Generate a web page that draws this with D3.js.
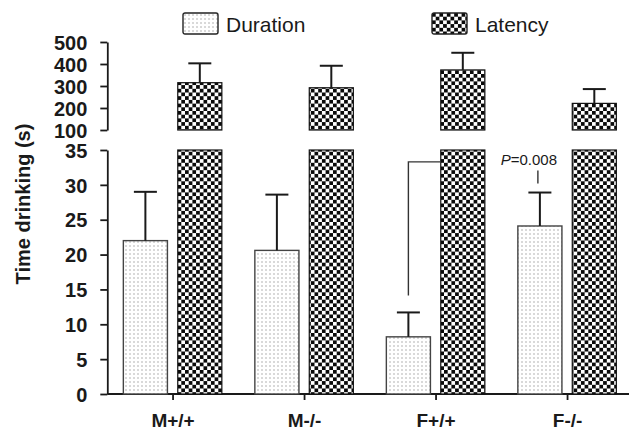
<!DOCTYPE html>
<html>
<head>
<meta charset="utf-8">
<script src="https://cdn.jsdelivr.net/npm/d3@7"></script>
<style>
  body { margin: 0; background: #fff; }
  svg { font-family: 'Liberation Sans', Arial, sans-serif; }
</style>
</head>
<body>
<svg id="chart" width="629" height="431"></svg>
<script>
// data
const groups = ['M+/+', 'M-/-', 'F+/+', 'F-/-'];
const series = ['Duration', 'Latency'];
const durationMean = [22.0, 20.6, 8.2, 24.1];
const durationSem = [7.0, 8.0, 3.5, 4.8];
const latencyMean = [315, 292, 373, 221];
const latencySem = [88, 100, 78, 65];
const lowerTicks = [0, 5, 10, 15, 20, 25, 30, 35];
const upperTicks = [100, 200, 300, 400, 500];
const pLabel = '=0.008';

const svg = d3.select('#chart');
const ink = '#1a1a1a';

// patterns
const defs = svg.append('defs');
const dots = defs.append('pattern').attr('id', 'dots')
  .attr('patternUnits', 'userSpaceOnUse').attr('width', 4).attr('height', 4);
dots.append('rect').attr('width', 4).attr('height', 4).attr('fill', '#fff');
dots.append('circle').attr('cx', 2).attr('cy', 2).attr('r', 0.75).attr('fill', '#a0a0a0');

const checks = defs.append('pattern').attr('id', 'checks')
  .attr('patternUnits', 'userSpaceOnUse').attr('width', 7.4).attr('height', 7.4);
checks.append('rect').attr('width', 7.4).attr('height', 7.4).attr('fill', '#fff');
checks.append('rect').attr('x', 0).attr('y', 0).attr('width', 3.7).attr('height', 3.7).attr('fill', '#0a0a0a');
checks.append('rect').attr('x', 3.7).attr('y', 3.7).attr('width', 3.7).attr('height', 3.7).attr('fill', '#0a0a0a');

const fillFor = { Duration: 'url(#dots)', Latency: 'url(#checks)' };

// scales
const axisX = 107.3;
const x = d3.scaleBand().domain(groups).range([axisX, axisX + 526]).padding(0);
const sub = d3.scaleBand().domain(series).range([-49.7, 48.8]).paddingInner(0.19);
const yLow = d3.scaleLinear().domain([0, 35]).range([394, 150]);
const yHigh = d3.scaleLinear().domain([100, 500]).range([130, 42]);
const cx = g => x(g) + x.bandwidth() / 2;

// axes
function styleAxis(g) {
  g.selectAll('path, line').attr('stroke', ink).attr('stroke-width', 1.8);
  g.selectAll('text').attr('fill', ink).attr('font-size', 20).attr('font-weight', 'bold');
}
svg.append('g').attr('transform', `translate(${axisX},0)`)
  .call(d3.axisLeft(yLow).tickValues(lowerTicks).tickSize(7).tickSizeOuter(0).tickPadding(13))
  .call(styleAxis)
  .call(g => g.selectAll('text').attr('dy', '0.36em'));
svg.append('g').attr('transform', `translate(${axisX},0)`)
  .call(d3.axisLeft(yHigh).tickValues(upperTicks).tickSize(7).tickSizeOuter(0).tickPadding(13))
  .call(styleAxis)
  .call(g => g.selectAll('text').attr('dy', '0.36em'));

const xAxis = svg.append('g').attr('transform', 'translate(0,394)')
  .call(d3.axisBottom(x).tickSize(6).tickSizeOuter(0).tickPadding(13))
  .call(styleAxis);
xAxis.select('.domain').attr('d', `M${axisX},0H629`);
xAxis.selectAll('text').attr('font-size', 19).attr('dy', '0.75em');

// duration bars (lower panel)
const durRows = groups.map((g, i) => ({ g, mean: durationMean[i], sem: durationSem[i] }));
const latRows = groups.map((g, i) => ({ g, mean: latencyMean[i], sem: latencySem[i] }));

svg.append('g').selectAll('rect').data(durRows).join('rect')
  .attr('x', d => cx(d.g) + sub('Duration'))
  .attr('width', sub.bandwidth())
  .attr('y', d => yLow(d.mean))
  .attr('height', d => yLow(0) - yLow(d.mean))
  .attr('fill', fillFor.Duration).attr('stroke', '#444').attr('stroke-width', 1.4);

// latency bars: broken axis, full to 35 in lower panel, real value in upper
svg.append('g').selectAll('rect').data(latRows).join('rect')
  .attr('x', d => cx(d.g) + sub('Latency'))
  .attr('width', sub.bandwidth())
  .attr('y', yLow(35))
  .attr('height', yLow(0) - yLow(35))
  .attr('fill', fillFor.Latency).attr('stroke', '#111').attr('stroke-width', 1.2);
svg.append('g').selectAll('rect').data(latRows).join('rect')
  .attr('x', d => cx(d.g) + sub('Latency'))
  .attr('width', sub.bandwidth())
  .attr('y', d => yHigh(d.mean))
  .attr('height', d => yHigh(100) - yHigh(d.mean))
  .attr('fill', fillFor.Latency).attr('stroke', '#111').attr('stroke-width', 1.2);

// error bars
function errorBars(rows, key, y) {
  const g = svg.append('g').attr('stroke', ink).attr('stroke-width', 2);
  rows.forEach(d => {
    const c = cx(d.g) + sub(key) + sub.bandwidth() / 2;
    g.append('line').attr('x1', c).attr('x2', c).attr('y1', y(d.mean)).attr('y2', y(d.mean + d.sem));
    g.append('line').attr('x1', c - 11.5).attr('x2', c + 11.5).attr('y1', y(d.mean + d.sem)).attr('y2', y(d.mean + d.sem));
  });
}
errorBars(durRows, 'Duration', yLow);
errorBars(latRows, 'Latency', yHigh);

// significance bracket F+/+ vs F-/-
const fp = durRows[2], fm = durRows[3];
const bx = cx(fp.g) + sub('Duration') + sub.bandwidth() / 2;
const latLeft = cx(fp.g) + sub('Latency');
const bTop = yLow(33.3);
svg.append('path')
  .attr('d', `M${bx},${yLow(fp.mean + fp.sem) - 17}V${bTop}H${latLeft}`)
  .attr('fill', 'none').attr('stroke', '#333').attr('stroke-width', 1.4);
const mx = cx(fm.g) + sub('Duration') + sub.bandwidth() / 2 - 2;
svg.append('line').attr('x1', mx).attr('x2', mx)
  .attr('y1', yLow(fm.mean + fm.sem) - 9).attr('y2', yLow(fm.mean + fm.sem) - 22)
  .attr('stroke', '#333').attr('stroke-width', 1.4);
const pText = svg.append('text').attr('x', mx - 9).attr('y', 165)
  .attr('text-anchor', 'middle').attr('font-size', 15).attr('fill', ink);
pText.append('tspan').attr('font-style', 'italic').text('P');
pText.append('tspan').text(pLabel);

// y title
svg.append('text')
  .attr('transform', 'translate(30,204) rotate(-90)')
  .attr('text-anchor', 'middle').attr('font-size', 20).attr('font-weight', 'bold')
  .attr('fill', ink).text('Time drinking (s)');

// legend
const legendX = { Duration: 183, Latency: 432 };
const legend = svg.append('g').selectAll('g').data(series).join('g')
  .attr('transform', d => `translate(${legendX[d]},13)`);
legend.append('rect').attr('width', 35).attr('height', 21).attr('rx', 2)
  .attr('fill', d => fillFor[d]).attr('stroke', '#222').attr('stroke-width', 1.4);
legend.append('text').attr('x', 43).attr('y', 18.5)
  .attr('font-size', 21).attr('fill', ink).text(d => d);
</script>
</body>
</html>
